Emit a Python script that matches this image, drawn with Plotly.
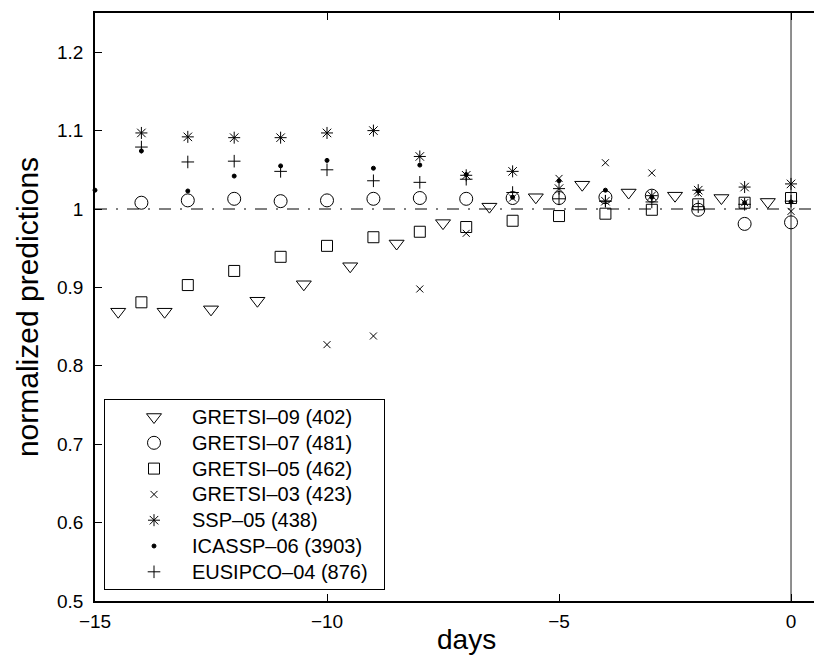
import plotly.graph_objects as go

days_half = [-14.5, -13.5, -12.5, -11.5, -10.5, -9.5, -8.5, -7.5, -6.5, -5.5, -4.5, -3.5, -2.5, -1.5, -0.5]
days = [-14, -13, -12, -11, -10, -9, -8, -7, -6, -5, -4, -3, -2, -1, 0]
days_x = [-10, -9, -8, -7, -6, -5, -4, -3, -2, -1, 0]
days_dot = [-15, -14, -13, -12, -11, -10, -9, -8, -7, -6, -5, -4, -3, -2, -1, 0]

gretsi09 = [0.869, 0.869, 0.872, 0.883, 0.904, 0.927, 0.956, 0.982, 1.003, 1.015, 1.031, 1.021, 1.017, 1.014, 1.009]
gretsi07 = [1.008, 1.011, 1.013, 1.010, 1.011, 1.013, 1.014, 1.013, 1.014, 1.014, 1.015, 1.017, 0.999, 0.981, 0.983]
gretsi05 = [0.881, 0.903, 0.921, 0.939, 0.953, 0.964, 0.971, 0.977, 0.985, 0.991, 0.994, 0.999, 1.006, 1.008, 1.014]
gretsi03 = [0.827, 0.838, 0.898, 0.969, 1.014, 1.039, 1.059, 1.046, 1.020, 1.008, 0.997]
ssp05 = [1.097, 1.092, 1.091, 1.091, 1.097, 1.100, 1.067, 1.043, 1.048, 1.026, 1.010, 1.017, 1.024, 1.028, 1.032]
icassp06 = [1.024, 1.074, 1.023, 1.042, 1.055, 1.062, 1.052, 1.056, 1.044, 1.015, 1.036, 1.024, 1.015, 1.023, 1.008, 1.009]
eusipco04 = [1.079, 1.060, 1.061, 1.048, 1.050, 1.036, 1.034, 1.038, 1.021, 1.013, 1.010, 1.009, 1.003, 1.006, 1.010]

names = ["GRETSI\u201309 (402)", "GRETSI\u201307 (481)", "GRETSI\u201305 (462)", "GRETSI\u201303 (423)",
         "SSP\u201305 (438)", "ICASSP\u201306 (3903)", "EUSIPCO\u201304 (876)"]

series = [
    (days_half, gretsi09, "triangle-down-open", 13),
    (days, gretsi07, "circle-open", 13),
    (days, gretsi05, "square-open", 11),
    (days_x, gretsi03, "x-thin-open", 7),
    (days, ssp05, "asterisk-open", 10),
    (days_dot, icassp06, "circle", 4),
    (days, eusipco04, "cross-thin-open", 9),
]

FONT = "Liberation Sans, Arial, Helvetica, sans-serif"

# legend box geometry (pixel units inside the legend sub-axes)
LEG_W, LEG_H = 279, 189
leg_sym_x = 49
leg_txt_x = 85
leg_rows = [17 + i * 25.8 for i in range(len(names))]

fig = go.Figure()
for name, (xs, ys, sym, sz) in zip(names, series):
    fig.add_trace(go.Scatter(
        x=xs, y=ys, mode="markers", name=name, cliponaxis=False, showlegend=False,
        marker=dict(symbol=sym, size=sz, color="black",
                    line=dict(color="black", width=1)),
    ))

# legend drawn in its own small axes
for i, (name, (xs, ys, sym, sz)) in enumerate(zip(names, series)):
    fig.add_trace(go.Scatter(
        x=[leg_sym_x], y=[leg_rows[i]], mode="markers", showlegend=False,
        xaxis="x2", yaxis="y2", hoverinfo="skip",
        marker=dict(symbol=sym, size=sz, color="black",
                    line=dict(color="black", width=1)),
    ))
    fig.add_annotation(x=leg_txt_x, y=leg_rows[i], xref="x2", yref="y2",
                       text=name, showarrow=False, xanchor="left", yanchor="middle",
                       font=dict(family=FONT, size=20, color="black"))

# reference lines
fig.add_shape(type="line", xref="paper", yref="y", x0=0, x1=1, y0=1, y1=1,
              line=dict(color="black", width=1, dash="12px,9px,2px,9px"), layer="below")
fig.add_shape(type="line", xref="x", yref="paper", x0=0, x1=0, y0=0, y1=1,
              line=dict(color="#6a6a6a", width=1.5), layer="below")

# x-axis title
fig.add_annotation(text="days", x=0.506, y=-0.066, xref="paper", yref="paper",
                   showarrow=False, xanchor="center", yanchor="middle",
                   font=dict(family=FONT, size=28, color="black"))

fig.update_layout(
    width=822, height=659,
    margin=dict(l=87, r=0, t=5, b=66),
    plot_bgcolor="white", paper_bgcolor="white",
    font=dict(family=FONT, color="black", size=19),
    showlegend=False,
    xaxis=dict(
        range=[-15, 0.84], tickvals=[-15, -10, -5, 0],
        ticks="inside", ticklen=7, tickcolor="black",
        showline=True, linecolor="black", linewidth=1.5, mirror="ticks",
        showgrid=False, zeroline=False,
        tickfont=dict(size=19), ticklabelstandoff=2,
    ),
    yaxis=dict(
        range=[0.5, 1.25], tickvals=[0.5, 0.6, 0.7, 0.8, 0.9, 1.0, 1.1, 1.2],
        ticktext=["0.5", "0.6", "0.7", "0.8", "0.9", "1", "1.1", "1.2"],
        ticks="inside", ticklen=7, tickcolor="black",
        showline=True, linecolor="black", linewidth=1.5, mirror=False,
        showgrid=False, zeroline=False,
        title=dict(text="normalized predictions", font=dict(size=30), standoff=10),
        tickfont=dict(size=19), ticklabelstandoff=6,
    ),
    xaxis2=dict(
        domain=[10 / 735, (10 + LEG_W) / 735], range=[0, LEG_W], anchor="y2",
        showline=True, mirror=True, linecolor="black", linewidth=1,
        showgrid=False, zeroline=False, showticklabels=False, ticks="",
        fixedrange=True,
    ),
    yaxis2=dict(
        domain=[12 / 588, (12 + LEG_H) / 588], range=[LEG_H, 0], anchor="x2",
        showline=True, mirror=True, linecolor="black", linewidth=1,
        showgrid=False, zeroline=False, showticklabels=False, ticks="",
        fixedrange=True,
    ),
)

fig.write_html("out.html")
